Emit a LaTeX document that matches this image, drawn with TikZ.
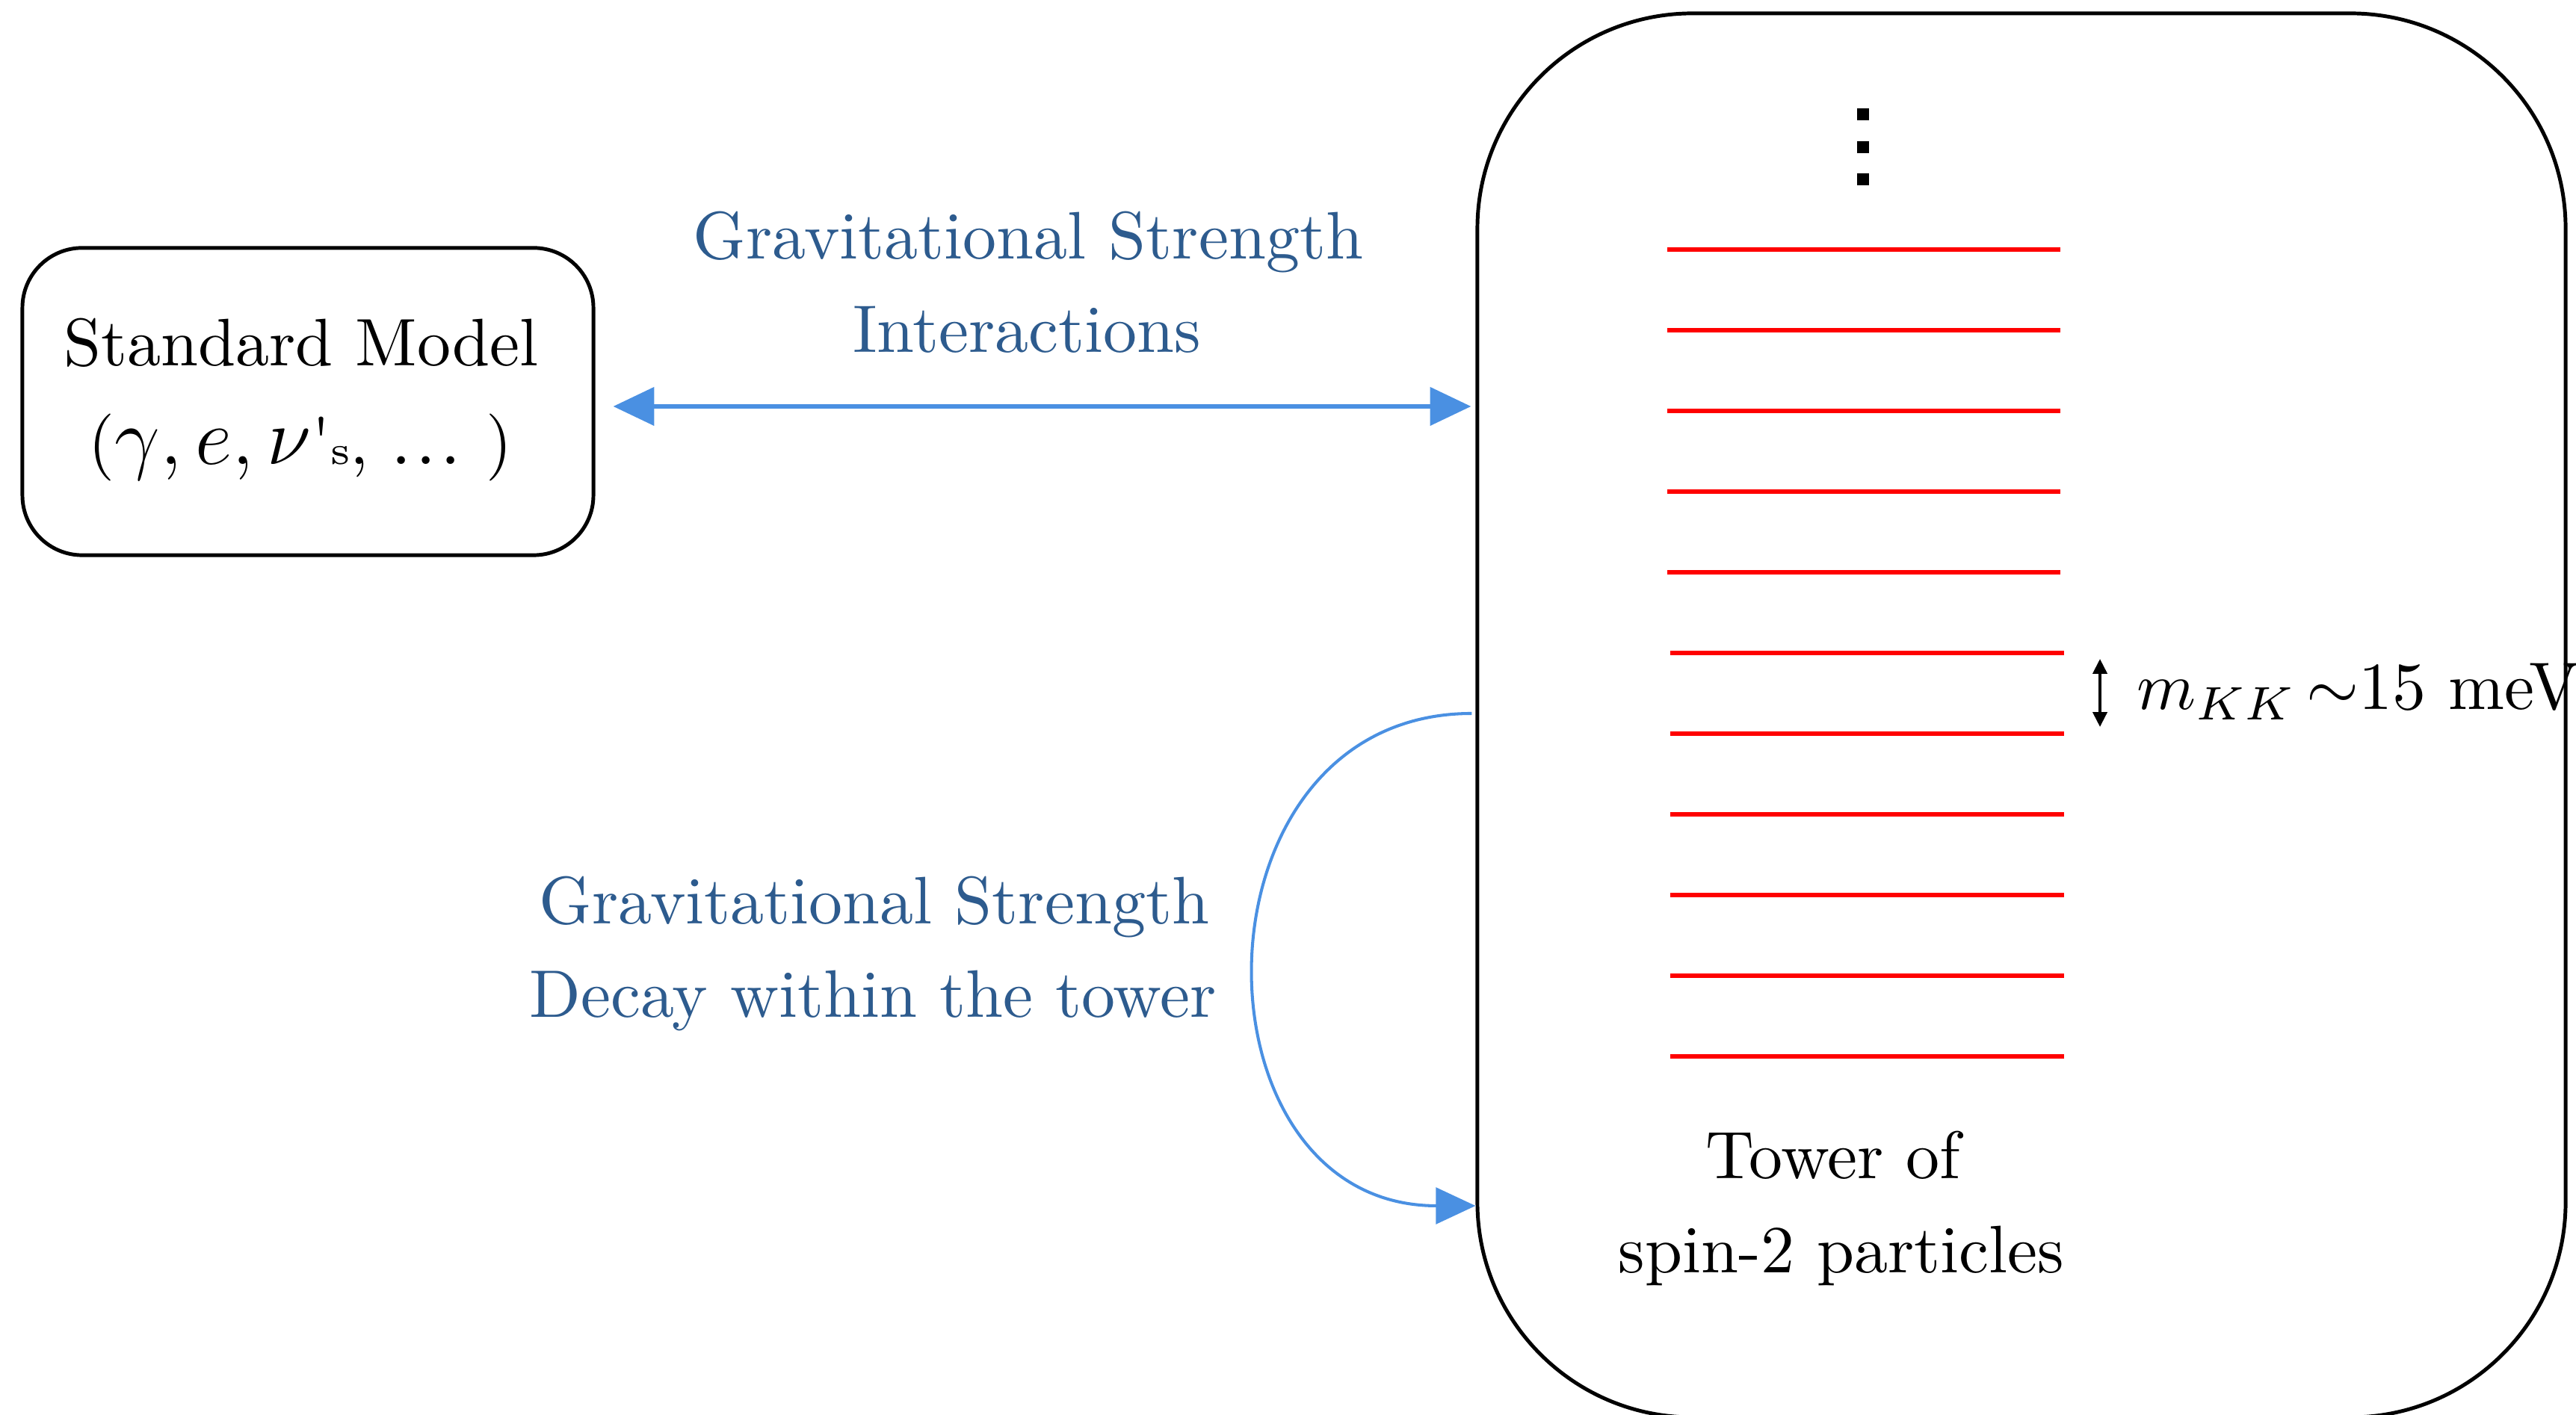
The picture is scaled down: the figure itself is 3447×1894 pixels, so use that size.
\documentclass[tikz,border=0pt]{standalone}
\usetikzlibrary{arrows.meta,calc}
\definecolor{arrowblue}{RGB}{74,144,226}
\definecolor{textblue}{RGB}{45,91,142}
\definecolor{levelred}{RGB}{255,0,0}
\begin{document}
\begin{tikzpicture}[x=0.11111pt,y=-0.11111pt,
  box/.style={draw=black,line width=0.55pt,inner sep=0pt},
  txt/.style={inner sep=0pt,anchor=base,font=\fontsize{10}{12}\selectfont},
  bluetxt/.style={txt,text=textblue},
  biarrow/.style={draw=arrowblue,line width=0.74pt,{Triangle[length=6.1pt,width=5.6pt]}-{Triangle[length=6.1pt,width=5.6pt]}},
  decayarrow/.style={draw=arrowblue,line width=0.45pt,-{Triangle[length=5.9pt,width=5.4pt]}},
  level/.style={draw=levelred,line width=0.67pt},
  gaparrow/.style={draw=black,line width=0.45pt,{Triangle[length=2.2pt,width=2.1pt]}-{Triangle[length=2.2pt,width=2.1pt]}},
  vdot/.style={fill=black,inner sep=0pt,minimum size=1.78pt}
]
\useasboundingbox (0,0) rectangle (3447,1894);
% boxes
\node[box,rounded corners=8.9pt,minimum width=84.9pt,minimum height=45.7pt] (sm) at (412,537.5) {};
\node[box,rounded corners=32pt,minimum width=161.8pt,minimum height=208.8pt] (tower) at (2705,957.5) {};
% standard model text
\node[txt] (smname) at (403,490) {Standard Model};
\node[txt] (smcontent) at (402,622) {({\fontsize{11.5}{14}\selectfont$\gamma,e,\nu$}\textquotesingle{\fontsize{6}{7}\selectfont s},\kern3.2pt{\fontsize{12}{14}\selectfont.\kern0.4pt.\kern0.4pt.}\kern3.6pt)};
% interaction arrow
\draw[biarrow] ($(sm.east)+(24,6.5)$) -- ($(tower.west |- sm.east)+(-6,6.5)$);
\node[bluetxt] (intA) at (1376,347) {Gravitational Strength};
\node[bluetxt] (intB) at (1374,472) {Interactions};
% decay arrow
\draw[decayarrow] ($(tower.west)+(-5,-2.5)$) .. controls +(-385,0) and +(-390,0) .. ($(tower.west)+(0,656.5)$);
\node[bluetxt] (decA) at (1170,1237) {Gravitational Strength};
\node[bluetxt] (decB) at (1168,1362) {Decay within the tower};
% levels
\foreach \k in {0,...,4} \draw[level] (2231,{334+108*\k}) -- (2757,{334+108*\k});
\foreach \k in {5,...,10} \draw[level] (2235,{334+108*\k}) -- (2762,{334+108*\k});
% dots
\foreach \yy/\n in {153/a,197/b,240/c} \node[vdot] (dot\n) at (2493,\yy) {};
% spacing
\coordinate (gaptop) at (2810,882);
\coordinate (gapbot) at (2810,973);
\draw[gaparrow] (gaptop) -- (gapbot);
\node[txt,anchor=base west] (mkk) at (2858,950) {$m_{KK}$\kern1.5pt$\sim$15 meV};
% tower label
\node[txt] (towerA) at (2453,1578) {Tower of};
\node[txt] (towerB) at (2464,1704) {spin-2 particles};
\end{tikzpicture}
\end{document}
